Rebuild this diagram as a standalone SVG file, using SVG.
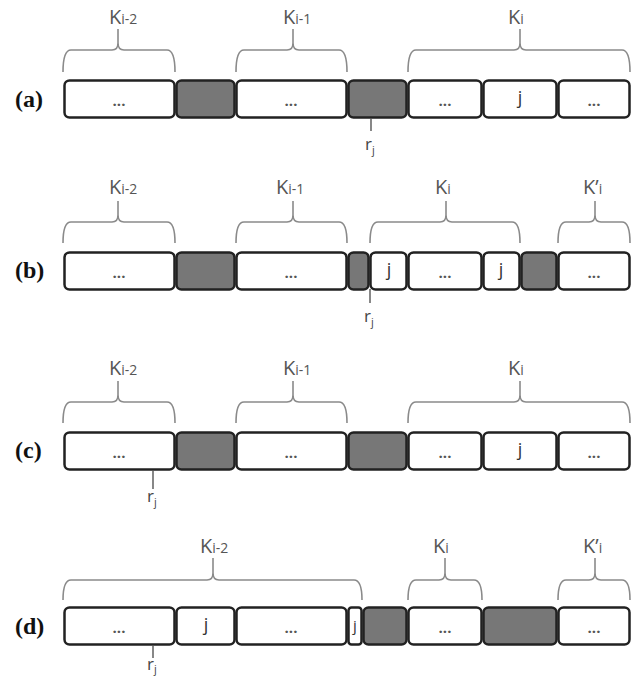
<svg xmlns="http://www.w3.org/2000/svg" width="631" height="678" viewBox="0 0 631 678">
<style>
.box{fill:#fff;stroke:#222;stroke-width:2.5}
.gray{fill:#777;stroke:#222;stroke-width:2.5}
.brace{fill:none;stroke:#8a8a8a;stroke-width:1.6}
.tick{stroke:#555;stroke-width:1.4}
.K{font-family:"Open Sans","Liberation Sans",sans-serif;font-size:20px;fill:#555}
.Ks{font-size:14px}
.dots{font-family:"Open Sans","Liberation Sans",sans-serif;font-size:15px;font-weight:bold;fill:#555;text-anchor:middle}
.j{font-family:"Open Sans","Liberation Sans",sans-serif;font-size:18px;fill:#333;text-anchor:middle}
.r{font-family:"Open Sans","Liberation Sans",sans-serif;font-size:17px;fill:#444}
.rs{font-size:11px}
.row{font-family:"Liberation Serif","Times New Roman",serif;font-size:24px;font-weight:bold;fill:#111}
</style>
<rect width="631" height="678" fill="#fff"/>

<!-- Row (a) -->
<g id="row-a">
<text class="row" x="15" y="107">(a)</text>
<g id="a-braces">
<path class="brace" d="M63,72 Q63,50 71,50 L112,50 Q118,50 118,43 L118,29 M118,43 Q118,50 124,50 L167,50 Q175,50 175,72"/>
<path class="brace" d="M236,72 Q236,50 244,50 L287,50 Q293,50 293,43 L293,29 M293,43 Q293,50 299,50 L339,50 Q347,50 347,72"/>
<path class="brace" d="M408,72 Q408,50 416,50 L514,50 Q520,50 520,43 L520,29 M520,43 Q520,50 526,50 L622,50 Q630,50 630,72"/>
<text class="K" x="109" y="24">K<tspan class="Ks">i-2</tspan></text>
<text class="K" x="283" y="24">K<tspan class="Ks">i-1</tspan></text>
<text class="K" x="508" y="24">K<tspan class="Ks">i</tspan></text>
</g>
<g id="a-boxes">
<rect class="box" x="64.5" y="80.5" width="110" height="37" rx="5"/>
<rect class="gray" x="176.5" y="80.5" width="58" height="37" rx="5"/>
<rect class="box" x="236.5" y="80.5" width="110" height="37" rx="5"/>
<rect class="gray" x="348.5" y="80.5" width="58" height="37" rx="5"/>
<rect class="box" x="408.5" y="80.5" width="73" height="37" rx="5"/>
<rect class="box" x="483.5" y="80.5" width="73" height="37" rx="5"/>
<rect class="box" x="558.5" y="80.5" width="71" height="37" rx="5"/>
<text class="dots" x="119" y="106">...</text>
<text class="dots" x="291" y="106">...</text>
<text class="dots" x="445" y="106">...</text>
<text class="j" x="520" y="104">j</text>
<text class="dots" x="594" y="106">...</text>
</g>
<g id="a-rj">
<line class="tick" x1="371" y1="118" x2="371" y2="131"/>
<text class="r" x="365" y="150">r<tspan class="rs" dy="4">j</tspan></text>
</g>
</g>

<!-- Row (b) -->
<g id="row-b">
<text class="row" x="15" y="278">(b)</text>
<g id="b-braces">
<path class="brace" d="M63,243 Q63,222 71,222 L112,222 Q118,222 118,215 L118,201 M118,215 Q118,222 124,222 L167,222 Q175,222 175,243"/>
<path class="brace" d="M236,243 Q236,222 244,222 L287,222 Q293,222 293,215 L293,201 M293,215 Q293,222 299,222 L339,222 Q347,222 347,243"/>
<path class="brace" d="M370,243 Q370,222 378,222 L440,222 Q446,222 446,215 L446,201 M446,215 Q446,222 452,222 L512,222 Q520,222 520,243"/>
<path class="brace" d="M558,243 Q558,222 566,222 L589,222 Q595,222 595,215 L595,201 M595,215 Q595,222 601,222 L622,222 Q630,222 630,243"/>
<text class="K" x="109" y="194">K<tspan class="Ks">i-2</tspan></text>
<text class="K" x="276" y="194">K<tspan class="Ks">i-1</tspan></text>
<text class="K" x="435" y="194">K<tspan class="Ks">i</tspan></text>
<text class="K" x="583" y="194">K’<tspan class="Ks">i</tspan></text>
</g>
<g id="b-boxes">
<rect class="box" x="64.5" y="252.5" width="110" height="37" rx="5"/>
<rect class="gray" x="176.5" y="252.5" width="58" height="37" rx="5"/>
<rect class="box" x="236.5" y="252.5" width="110" height="37" rx="5"/>
<rect class="gray" x="348.5" y="252.5" width="20" height="37" rx="5"/>
<rect class="box" x="370.5" y="252.5" width="36" height="37" rx="5"/>
<rect class="box" x="408.5" y="252.5" width="73" height="37" rx="5"/>
<rect class="box" x="483.5" y="252.5" width="36" height="37" rx="5"/>
<rect class="gray" x="521.5" y="252.5" width="35" height="37" rx="5"/>
<rect class="box" x="558.5" y="252.5" width="71" height="37" rx="5"/>
<text class="dots" x="119" y="278">...</text>
<text class="dots" x="291" y="278">...</text>
<text class="j" x="389" y="276">j</text>
<text class="dots" x="445" y="278">...</text>
<text class="j" x="501" y="276">j</text>
<text class="dots" x="594" y="278">...</text>
</g>
<g id="b-rj">
<line class="tick" x1="370" y1="289" x2="370" y2="303"/>
<text class="r" x="364" y="322">r<tspan class="rs" dy="4">j</tspan></text>
</g>
</g>

<!-- Row (c) -->
<g id="row-c">
<text class="row" x="15" y="458">(c)</text>
<g id="c-braces">
<path class="brace" d="M63,423 Q63,402 71,402 L112,402 Q118,402 118,395 L118,381 M118,395 Q118,402 124,402 L167,402 Q175,402 175,423"/>
<path class="brace" d="M236,423 Q236,402 244,402 L287,402 Q293,402 293,395 L293,381 M293,395 Q293,402 299,402 L339,402 Q347,402 347,423"/>
<path class="brace" d="M408,423 Q408,402 416,402 L514,402 Q520,402 520,395 L520,381 M520,395 Q520,402 526,402 L622,402 Q630,402 630,423"/>
<text class="K" x="109" y="375">K<tspan class="Ks">i-2</tspan></text>
<text class="K" x="283" y="375">K<tspan class="Ks">i-1</tspan></text>
<text class="K" x="508" y="375">K<tspan class="Ks">i</tspan></text>
</g>
<g id="c-boxes">
<rect class="box" x="64.5" y="432.5" width="110" height="37" rx="5"/>
<rect class="gray" x="176.5" y="432.5" width="58" height="37" rx="5"/>
<rect class="box" x="236.5" y="432.5" width="110" height="37" rx="5"/>
<rect class="gray" x="348.5" y="432.5" width="58" height="37" rx="5"/>
<rect class="box" x="408.5" y="432.5" width="73" height="37" rx="5"/>
<rect class="box" x="483.5" y="432.5" width="73" height="37" rx="5"/>
<rect class="box" x="558.5" y="432.5" width="71" height="37" rx="5"/>
<text class="dots" x="119" y="458">...</text>
<text class="dots" x="291" y="458">...</text>
<text class="dots" x="445" y="458">...</text>
<text class="j" x="520" y="456">j</text>
<text class="dots" x="594" y="458">...</text>
</g>
<g id="c-rj">
<line class="tick" x1="153" y1="470" x2="153" y2="489"/>
<text class="r" x="147" y="502">r<tspan class="rs" dy="4">j</tspan></text>
</g>
</g>

<!-- Row (d) -->
<g id="row-d">
<text class="row" x="15" y="634">(d)</text>
<g id="d-braces">
<path class="brace" d="M63,600 Q63,580 71,580 L207,580 Q213,580 213,573 L213,558 M213,573 Q213,580 219,580 L354,580 Q362,580 362,600"/>
<path class="brace" d="M408,600 Q408,580 416,580 L439,580 Q445,580 445,573 L445,558 M445,573 Q445,580 451,580 L474,580 Q482,580 482,600"/>
<path class="brace" d="M558,600 Q558,580 566,580 L589,580 Q595,580 595,573 L595,558 M595,573 Q595,580 601,580 L622,580 Q630,580 630,600"/>
<text class="K" x="200" y="553">K<tspan class="Ks">i-2</tspan></text>
<text class="K" x="433" y="553">K<tspan class="Ks">i</tspan></text>
<text class="K" x="583" y="553">K’<tspan class="Ks">i</tspan></text>
</g>
<g id="d-boxes">
<rect class="box" x="64.5" y="607.5" width="110" height="37" rx="5"/>
<rect class="box" x="176.5" y="607.5" width="58" height="37" rx="5"/>
<rect class="box" x="236.5" y="607.5" width="110" height="37" rx="5"/>
<rect class="box" x="348.5" y="607.5" width="13" height="37" rx="3"/>
<rect class="gray" x="363.5" y="607.5" width="43" height="37" rx="5"/>
<rect class="box" x="408.5" y="607.5" width="73" height="37" rx="5"/>
<rect class="gray" x="483.5" y="607.5" width="73" height="37" rx="5"/>
<rect class="box" x="558.5" y="607.5" width="71" height="37" rx="5"/>
<text class="dots" x="119" y="633">...</text>
<text class="j" x="206" y="631">j</text>
<text class="dots" x="291" y="633">...</text>
<text class="j" x="355" y="631" style="font-size:15px">j</text>
<text class="dots" x="445" y="633">...</text>
<text class="dots" x="594" y="633">...</text>
</g>
<g id="d-rj">
<line class="tick" x1="153" y1="645" x2="153" y2="658"/>
<text class="r" x="147" y="670">r<tspan class="rs" dy="3">j</tspan></text>
</g>
</g>
</svg>
